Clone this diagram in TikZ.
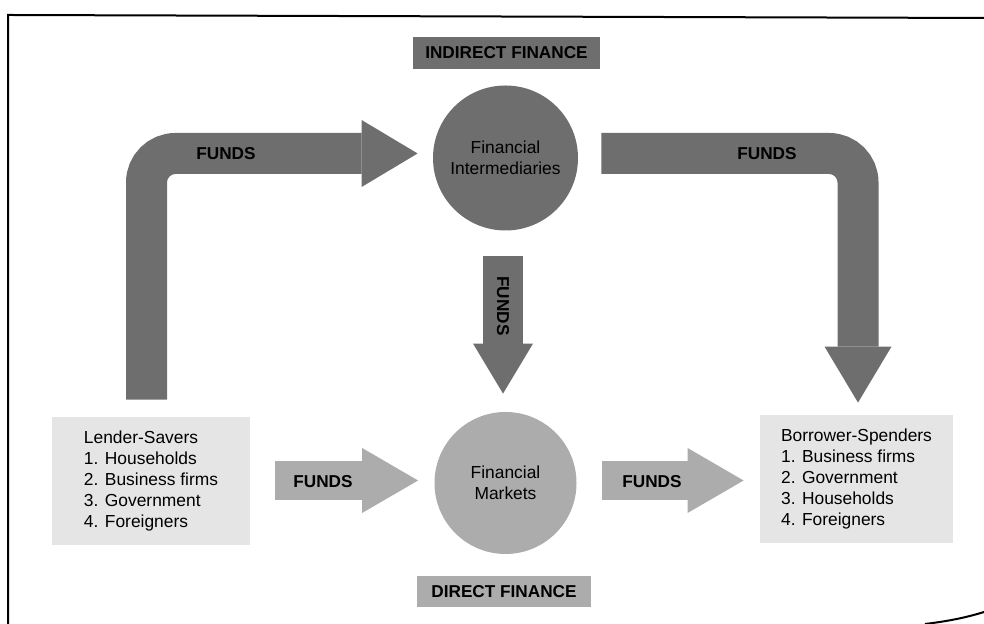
\documentclass[tikz,border=0pt]{standalone}
\usepackage{fontspec}
\setmainfont{Liberation Sans}
\usepackage{xcolor}
\usepackage{tikz}
\usetikzlibrary{positioning,arrows.meta,calc}

\definecolor{fundsdark}{RGB}{110,110,110}
\definecolor{fundslight}{RGB}{172,172,172}
\definecolor{sectorgray}{RGB}{229,229,229}

\begin{document}
\begin{tikzpicture}[x=0.5pt, y=0.5pt, every node/.style={font=\fontsize{8.7}{10.5}\selectfont},
  sector/.style={rectangle, fill=sectorgray, align=left, inner sep=0pt},
  market/.style={circle, inner sep=0pt, align=center},
  tag/.style={rectangle, inner sep=0pt, font=\fontsize{8.6}{10}\selectfont\bfseries},
  fundslabel/.style={inner sep=0pt, font=\fontsize{8.6}{10}\selectfont\bfseries},
  bentflow/.style={draw=fundsdark, line width=20.5pt, rounded corners=14.5pt,
    -{Triangle[length=28pt, width=33.5pt, line width=0pt]}},
  downflow/.style={draw=fundsdark, line width=20pt,
    -{Triangle[length=25pt, width=30pt, line width=0pt]}},
  directflow/.style={draw=fundslight, line width=19.5pt,
    -{Triangle[length=28pt, width=32.5pt, line width=0pt]}}]
\useasboundingbox (0,0) rectangle (984,624);

% page frame
\draw[line width=1pt] (8,0) -- (8,609) -- (984,606);
\draw[line width=1pt] (925,0) .. controls (950,3) and (968,7) .. (984,12);

% sectors and intermediaries
\node[sector, minimum width=99pt, minimum height=64pt] (lenders) at (151,143) {Lender-Savers\\1. Households\\2. Business firms\\3. Government\\4. Foreigners};
\node[sector, minimum width=96.5pt, minimum height=64pt] (borrowers) at (856.5,145) {Borrower-Spenders\\1. Business firms\\2. Government\\3. Households\\4. Foreigners};
\node[market, fill=fundsdark, minimum size=72.5pt] (fi) at (505.5,466) {Financial\\Intermediaries};
\node[market, fill=fundslight, minimum size=71pt] (fm) at (505.5,141) {Financial\\Markets};

\node[tag, fill=fundsdark, minimum width=93.5pt, minimum height=16pt] (indirect) at (506.5,571) {INDIRECT FINANCE};
\node[tag, fill=fundslight, minimum width=87pt, minimum height=15.5pt] (direct) at (504,32.5) {DIRECT FINANCE};

% flows of funds
\draw[bentflow] ($(lenders.north)+(-4.5,17)$) |- ($(fi.west)+(-15,4.5)$);
\draw[bentflow] ($(fi.east)+(23,4.5)$) -| ($(borrowers.north)+(1.5,12)$);
\draw[downflow] ($(fi.south)+(-2.5,-25)$) -- ($(fm.north)+(-2.5,18)$);
\draw[directflow] ($(lenders.east)+(25,0.5)$) -- ($(fm.west)+(-16,2.5)$);
\draw[directflow] ($(fm.east)+(25,2.5)$) -- ($(borrowers.west)+(-16,-1.5)$);

\node[fundslabel] (f1) at (226,470) {FUNDS};
\node[fundslabel] (f2) at (767,470) {FUNDS};
\node[fundslabel, rotate=-90] (f3) at (503,318) {FUNDS};
\node[fundslabel] (f4) at (323,142) {FUNDS};
\node[fundslabel] (f5) at (652,142) {FUNDS};
\end{tikzpicture}
\end{document}
